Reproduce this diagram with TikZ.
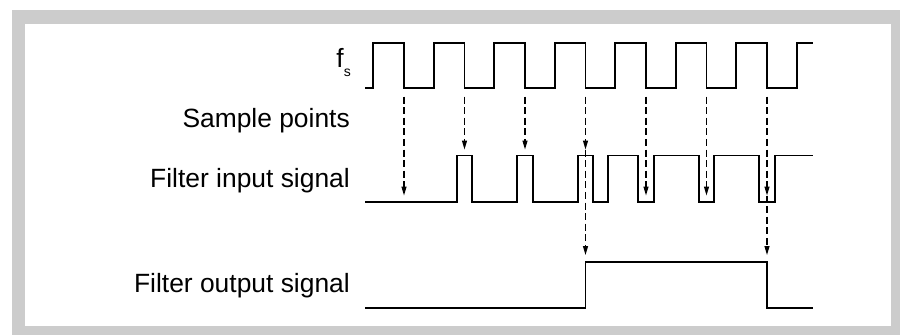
\documentclass[tikz,border=0pt]{standalone}
\usepackage{fontspec}
\setmainfont{Liberation Sans}
\usetikzlibrary{arrows.meta}
\definecolor{framegray}{HTML}{CCCCCC}
\tikzset{
  sig/.style={line width=1.8pt, line join=miter, line cap=butt},
  samplearrow/.style={line width=1.25pt, dash pattern=on 7pt off 3.6pt, -{Triangle[length=9pt,width=5pt]}},
  lbl/.style={anchor=base east, inner sep=0pt, font=\fontsize{26.4}{30}\selectfont}
}
\begin{document}
\begin{tikzpicture}[x=1pt,y=-1pt]
\useasboundingbox (0,0) rectangle (900,335);
\fill[framegray] (12,10) rectangle (900,335);
\fill[white] (25,24) rectangle (891,326);

% labels
\node[lbl] (fs) at (351,67.7) {f\raisebox{-9pt}{\fontsize{14}{16}\selectfont s}};
\node[lbl] (sp) at (350,127.5) {Sample points};
\node[lbl] (fin) at (350,187.5) {Filter input signal};
\node[lbl] (fout) at (350,292) {Filter output signal};

% clock f_s
\def\ch{42.7}\def\cl{88.3}
\draw[sig] (365,\cl)
  \foreach \k in {0,...,6} {
    -- ({373.3+60.5*\k},\cl) -- ({373.3+60.5*\k},\ch)
    -- ({404+60.5*\k},\ch) -- ({404+60.5*\k},\cl)
  }
  -- (796.8,\cl) -- (796.8,\ch) -- (812.5,\ch);

% input signal
\def\ih{155.5}\def\il{201.7}
\draw[sig] (365,\il) -- (456.7,\il) -- (456.7,\ih) -- (472.3,\ih) -- (472.3,\il)
  -- (517.3,\il) -- (517.3,\ih) -- (532.7,\ih) -- (532.7,\il)
  -- (577.8,\il) -- (577.8,\ih) -- (593.2,\ih) -- (593.2,\il)
  -- (608.3,\il) -- (608.3,\ih) -- (638.3,\ih) -- (638.3,\il)
  -- (653.7,\il) -- (653.7,\ih) -- (698.8,\ih) -- (698.8,\il)
  -- (714.2,\il) -- (714.2,\ih) -- (759.3,\ih) -- (759.3,\il)
  -- (774.7,\il) -- (774.7,\ih) -- (812.5,\ih);

% output signal
\def\oh{261.7}\def\ol{307.7}
\draw[sig] (365,\ol) -- (585.5,\ol) -- (585.5,\oh) -- (767,\oh) -- (767,\ol) -- (812.5,\ol);

% sample point coordinates
\foreach \k in {0,...,6} {
  \coordinate (s\k) at ({404+60.5*\k},96.5);
}
\coordinate (a0) at (404,195.5);
\coordinate (a1) at (464.5,149.5);
\coordinate (a2) at (525,149.5);
\coordinate (a3) at (585.5,149.5);
\coordinate (a4) at (646,195.5);
\coordinate (a5) at (706.5,195.5);
\coordinate (a6) at (767,195.5);
\coordinate (o3) at (585.5,255);
\coordinate (o6) at (767,255);

\foreach \k in {0,...,6} {
  \draw[samplearrow] (s\k) -- (a\k);
}
\draw[samplearrow] (a3) -- (o3);
\draw[samplearrow] (a6) -- (o6);
\end{tikzpicture}
\end{document}
